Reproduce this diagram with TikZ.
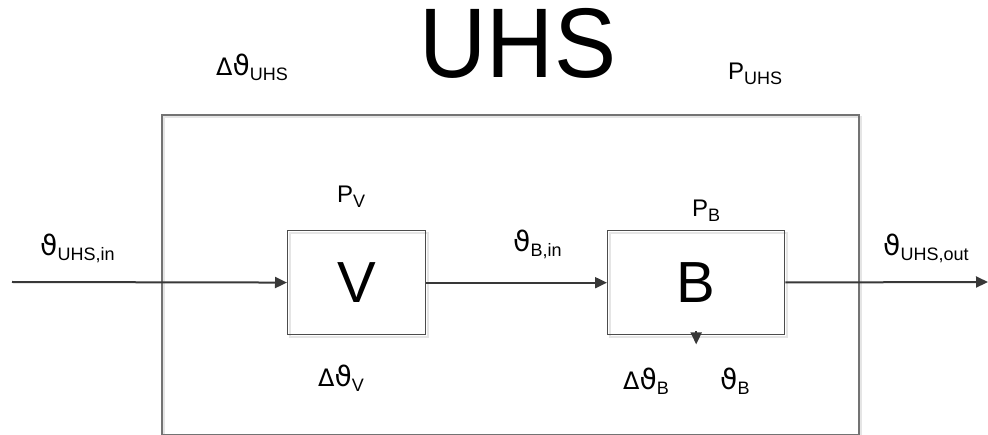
\documentclass[tikz,border=0pt]{standalone}
\usepackage{fontspec}
\setmainfont{Liberation Sans}
\newfontfamily\grk{DejaVu Sans}
\usetikzlibrary{arrows.meta,positioning}
\newcommand{\idx}[1]{\raisebox{-5pt}{\fontsize{18}{18}\selectfont #1}}
\newcommand{\lbl}{\fontsize{24}{24}\selectfont}
\newcommand{\thet}{{\grk\fontsize{28}{28}\selectfont ϑ}}
\newcommand{\dthet}{{\grk\fontsize{24}{24}\selectfont Δ\fontsize{28}{28}\selectfont ϑ}}
\tikzset{
  blk/.style={draw=black!70, line width=1.4pt, inner sep=0pt, anchor=north west},
  shd/.style={black!10, line width=1.5pt},
  sig/.style={draw=black!78, line width=2pt, -{Triangle[length=12pt,width=11pt]}},
  txt/.style={anchor=base west, inner sep=0pt},
  letter/.style={font=\fontsize{58}{58}\selectfont}
}
\begin{document}
\begin{tikzpicture}[x=1pt,y=-1pt]
\useasboundingbox (0,0) rectangle (988,435);
% shadows
\draw[shd] (164,117) rectangle +(697,320);
\draw[shd] (290,233) rectangle +(138,104);
\draw[shd] (610,233) rectangle +(177,104);
% blocks
\node[blk, draw=black!55, line width=1.8pt, minimum width=697pt, minimum height=320pt] (uhs) at (161,114) {};
\node[blk, minimum width=138pt, minimum height=104pt, letter] (V) at (287,230) {V};
\node[blk, minimum width=177pt, minimum height=104pt, letter] (B) at (607,230) {B};
\coordinate (in) at (12,282);
\coordinate (out) at (988,282);
\draw[sig] (in) -- (V);
\draw[sig] (V) -- (B);
\draw[sig] (B) -- (out);
\draw[sig] ([yshift=4pt]B.south) -- ([yshift=-9pt]B.south);
% labels
\node[anchor=base, inner sep=0pt, font=\fontsize{99}{99}\selectfont] (title) at (518,78) {\scalebox{0.94}[1]{UHS}};
\node[txt] (dtu) at (216,76) {\dthet\idx{UHS}};
\node[txt] (pu) at (728,80) {\lbl P\idx{UHS}};
\node[txt] (tin) at (40,256) {\thet\idx{UHS,in}};
\node[txt] (pv) at (337,203) {\lbl P\idx{V}};
\node[txt] (pb) at (692,217) {\lbl P\idx{B}};
\node[txt] (tbin) at (513,252) {\thet\idx{B,in}};
\node[txt] (tout) at (883,256) {\thet\idx{UHS,out}};
\node[txt] (dtv) at (318,387) {\dthet\idx{V}};
\node[txt] (dtb) at (623,390) {\dthet\idx{B}};
\node[txt] (tb) at (720,390) {\thet\idx{B}};
\end{tikzpicture}
\end{document}
